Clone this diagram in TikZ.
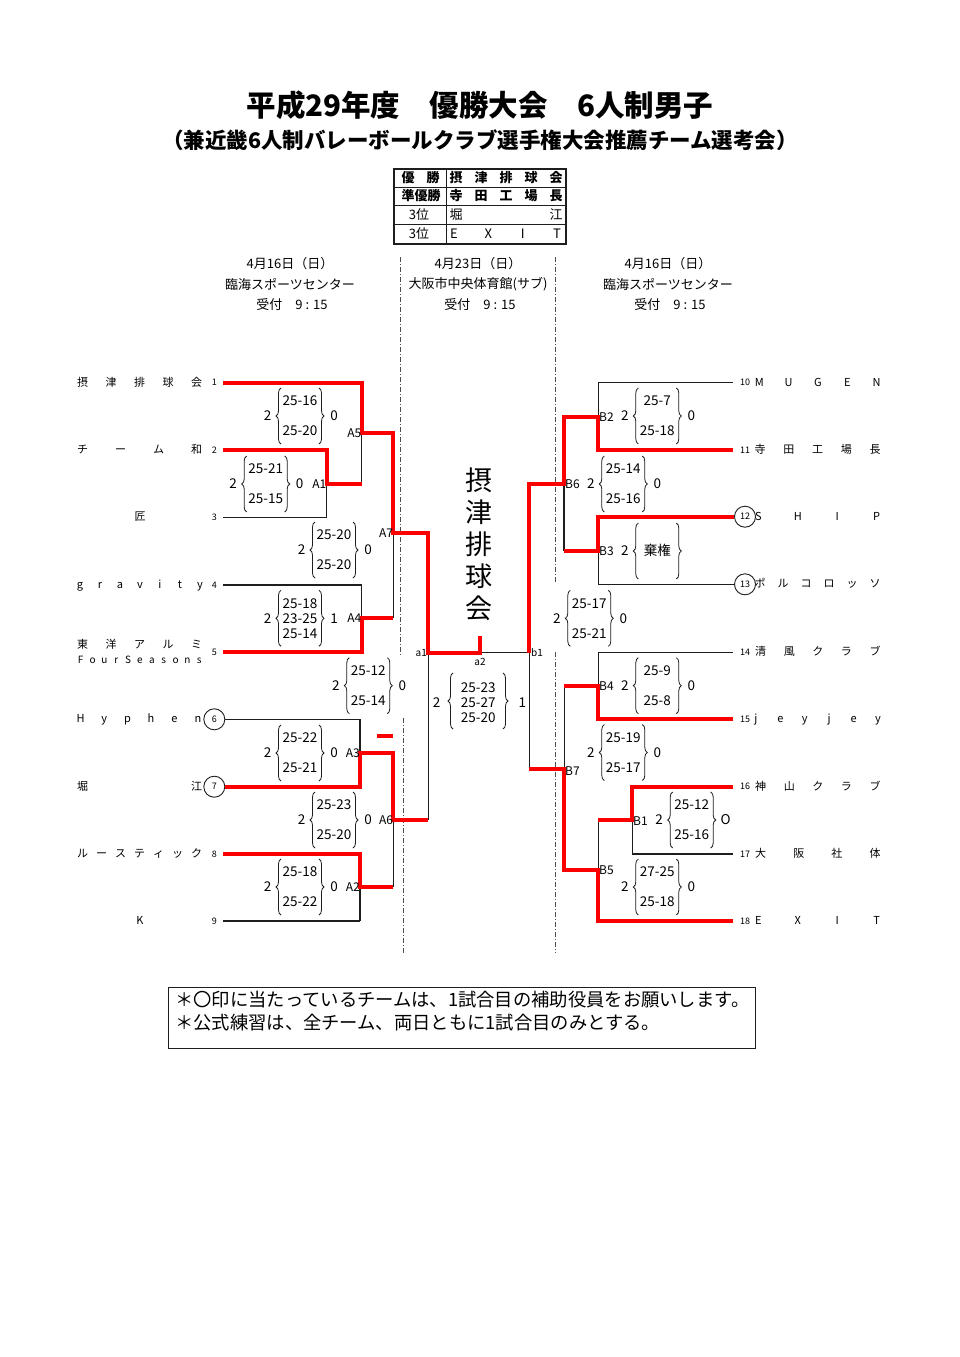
\documentclass[tikz,border=0pt]{standalone}
\usepackage{fontspec}
\setmainfont{Noto Sans CJK JP}
\usetikzlibrary{decorations.pathreplacing}
\definecolor{bred}{RGB}{250,0,0}
\definecolor{ink}{RGB}{30,30,30}
\newcommand\spr[7][nm]{%
  \foreach \ch [count=\i] in {#7} {%
    \pgfmathsetmacro\xx{#3+(\i-1)*(#4-#3)/(#6-1)}%
    \node[#1] (#2-\i) at (\xx,#5) {\ch};}}
\newcommand\matchtwo[6]{%
  \node[sc] (#1t) at (#2,#3-15) {#4};
  \node[sc] (#1b) at (#2,#3+15) {#5};
  \node[sc] (#1w) at (#2-32.5,#3) {2};
  \node[sc] (#1l) at (#2+34,#3) {#6};
  \draw[br] (#2-19,#3+28) -- (#2-19,#3-28);
  \draw[br] (#2+19,#3-28) -- (#2+19,#3+28);}
\newcommand\matchthree[7]{%
  \node[sc] (#1t) at (#2,#3-15) {#4};
  \node[sc] (#1m) at (#2,#3) {#5};
  \node[sc] (#1b) at (#2,#3+15) {#6};
  \node[sc] (#1w) at (#2-32.5,#3) {2};
  \node[sc] (#1l) at (#2+34,#3) {#7};
  \draw[br] (#2-19,#3+28) -- (#2-19,#3-28);
  \draw[br] (#2+19,#3-28) -- (#2+19,#3+28);}
\begin{document}
\begin{tikzpicture}[x=1pt,y=-1pt,
  rl/.style={line width=4pt, draw=bred, line join=miter},
  bl/.style={line width=1.3pt, draw=ink},
  dd/.style={line width=0.7pt, draw=black!70, dash pattern=on 5pt off 2pt on 1pt off 2pt},
  br/.style={decorate, decoration={brace, amplitude=5pt}, line width=0.8pt, draw=ink},
  sc/.style={font=\fontsize{13.5}{15}\selectfont, inner sep=0pt, text height=9.8pt, text depth=0pt},
  nm/.style={font=\fontsize{11}{13}\selectfont, inner sep=0pt, text height=8.5pt, text depth=1.5pt},
  nms/.style={font=\fontsize{10}{12}\selectfont, inner sep=0pt, text height=7.5pt, text depth=1.5pt},
  num/.style={font=\fontsize{9}{11}\selectfont, inner sep=0pt},
  circ/.style={draw=ink, line width=0.9pt, circle, minimum size=21pt, inner sep=0pt, font=\fontsize{9}{11}\selectfont},
  lab/.style={font=\fontsize{12}{14}\selectfont, inner sep=0pt, text height=9pt, text depth=0pt},
  slab/.style={font=\fontsize{10}{12}\selectfont, inner sep=0pt, text height=7.5pt, text depth=0pt},
  hd/.style={font=\fontsize{13}{15}\selectfont, inner sep=0pt},
  tb/.style={font=\fontsize{13}{15}\selectfont\bfseries, inner sep=0pt, text height=10pt, text depth=1.5pt},
  tr/.style={font=\fontsize{13}{15}\selectfont, inner sep=0pt, text height=10pt, text depth=1.5pt},
]
\fill[white] (0,0) rectangle (960,1357);
\useasboundingbox (0,0) rectangle (960,1357);

% titles
\node[font=\fontsize{29.5}{32}\selectfont\bfseries, inner sep=0pt] (title) at (480,105) {平成29年度　優勝大会　6人制男子};
\node[font=\fontsize{21.5}{24}\selectfont\bfseries, inner sep=0pt] (sub) at (480,140) {（兼近畿6人制バレーボールクラブ選手権大会推薦チーム選考会）};

% result table
\draw[line width=1.6pt, draw=ink] (394,169) rectangle (566,244);
\draw[line width=1pt, draw=ink] (394,187.3) -- (566,187.3) (394,205.7) -- (566,205.7) (394,224) -- (566,224) (446,169) -- (446,244);
\node[tb] (t1a) at (408,178) {優};
\node[tb] (t1b) at (433,178) {勝};
\node[tb] (t2) at (421,196.5) {準優勝};
\node[tr] (t3) at (419,215) {3位};
\node[tr] (t4) at (419,234) {3位};
\spr[tb]{r1}{456}{556}{178}{5}{摂,津,排,球,会}
\spr[tb]{r2}{456}{556}{196.5}{5}{寺,田,工,場,長}
\spr[tr]{r3}{456}{556}{215}{2}{堀,江}
\spr[tr]{r4}{454}{557}{234}{4}{E,X,I,T}

% headers
\node[hd] (d1) at (290,264) {4月16日（日）};
\node[hd] (v1) at (290,284) {臨海スポーツセンター};
\node[hd] (u1) at (292,305) {受付　9 : 15};
\node[hd] (d2) at (478,264) {4月23日（日）};
\node[hd] (v2) at (478,284) {大阪市中央体育館(サブ)};
\node[hd] (u2) at (480,305) {受付　9 : 15};
\node[hd] (d3) at (668,264) {4月16日（日）};
\node[hd] (v3) at (668,284) {臨海スポーツセンター};
\node[hd] (u3) at (670,305) {受付　9 : 15};

% dash-dot separators
\draw[dd] (400,257) -- (400,655);
\draw[dd] (403,718) -- (403,953);
\draw[dd] (555,257) -- (555,583);
\draw[dd] (555,652) -- (555,953);

% left team names
\spr{n1}{82.7}{196.7}{382.7}{5}{摂,津,排,球,会}
\spr{n2}{82.7}{196.7}{450}{4}{チ,ー,ム,和}
\node[nm] (n3) at (140,517.3) {匠};
\spr{n4}{80}{200}{585}{7}{g,r,a,v,i,t,y}
\spr{n5}{82.7}{196.7}{645}{5}{東,洋,ア,ル,ミ}
\spr[nms]{n5b}{80.7}{199.3}{660}{11}{F,o,u,r,S,e,a,s,o,n,s}
\spr{n6}{80.7}{198}{719.3}{6}{H,y,p,h,e,n}
\spr{n7}{82.7}{196.7}{786.7}{2}{堀,江}
\spr{n8}{82.7}{196.7}{854}{7}{ル,ー,ス,テ,ィ,ッ,ク}
\node[nm] (n9) at (140,921) {K};

% left numbers
\node[num] (k1) at (214.3,382.7) {1};
\node[num] (k2) at (214.3,450) {2};
\node[num] (k3) at (214.3,517.3) {3};
\node[num] (k4) at (214.3,585) {4};
\node[num] (k5) at (214.3,652.3) {5};
\node[circ, fill=white] (k6) at (214.3,719.3) {6};
\node[circ, fill=white] (k7) at (214.3,786.7) {7};
\node[num] (k8) at (214.3,854) {8};
\node[num] (k9) at (214.3,921) {9};

% right team names
\spr{n10}{759.3}{876.7}{382.7}{5}{M,U,G,E,N}
\spr{n11}{760}{875}{450}{5}{寺,田,工,場,長}
\spr{n12}{758.3}{876.7}{516.7}{4}{S,H,I,P}
\spr{n13}{760}{875}{584.3}{6}{ポ,ル,コ,ロ,ッ,ソ}
\spr{n14}{760.7}{875}{652.3}{5}{清,風,ク,ラ,ブ}
\spr{n15}{756}{878}{719.3}{6}{j,e,y,j,e,y}
\spr{n16}{760.7}{875}{786.7}{5}{神,山,ク,ラ,ブ}
\spr{n17}{760.7}{875}{854}{4}{大,阪,社,体}
\spr{n18}{758.3}{876.7}{921}{4}{E,X,I,T}

% right numbers
\node[num] (k10) at (745,382.7) {10};
\node[num] (k11) at (745,450) {11};
\node[circ] (k12) at (745,516.7) {12};
\node[circ] (k13) at (745,584.3) {13};
\node[num] (k14) at (745,652.3) {14};
\node[num] (k15) at (745,719.3) {15};
\node[num] (k16) at (745,786.7) {16};
\node[num] (k17) at (745,854) {17};
\node[num] (k18) at (745,921) {18};

% ---- black bracket lines, left
\draw[bl] (223,517.3) -- (326.7,517.3);
\draw[bl] (223,585) -- (361.7,585);
\draw[bl] (k6.east) -- (360,719.3);
\draw[bl] (223,921) -- (360,921);
\draw[bl] (361.7,432.7) -- (361.7,484);
\draw[bl] (326.7,484) -- (326.7,517.3);
\draw[bl] (361.7,585) -- (361.7,618.3);
\draw[bl] (393.3,533.3) -- (393.3,618.3);
\draw[bl] (428.3,652.7) -- (428.3,820);
\draw[bl] (360,719.3) -- (360,753.3);
\draw[bl] (393.3,820) -- (393.3,887.3);
\draw[bl] (360,887.3) -- (360,921);
% ---- black bracket lines, right
\draw[bl] (598.3,382.7) -- (733.3,382.7);
\draw[bl] (598.3,382.7) -- (598.3,416.7);
\draw[bl] (564,484) -- (564,550.7);
\draw[bl] (598.3,584.3) -- (k13.west);
\draw[bl] (598.3,550.7) -- (598.3,584.3);
\draw[bl] (598.3,652.3) -- (733.3,652.3);
\draw[bl] (598.3,652.3) -- (598.3,685.7);
\draw[bl] (564.3,685.7) -- (564.3,769.3);
\draw[bl] (529.3,652.7) -- (529.3,769.3);
\draw[bl] (632.3,854) -- (733.3,854);
\draw[bl] (632.3,820) -- (632.3,854);
\draw[bl] (598.3,820) -- (598.3,870);
\draw[bl] (480,652.2) -- (529.3,652.2);

% ---- red winner lines, left
\draw[rl] (223,382.7) -- (361.7,382.7) -- (361.7,432.7) -- (393.3,432.7) -- (393.3,533.3) -- (428.3,533.3) -- (428.3,652.7) -- (480,652.7) -- (480,636);
\draw[rl] (223,450) -- (326.7,450) -- (326.7,484) -- (361.7,484);
\draw[rl] (223,652.3) -- (361.7,652.3) -- (361.7,618.3) -- (393.3,618.3);
\draw[rl] (k7.east) -- (360,786.7) -- (360,753.3) -- (393.3,753.3) -- (393.3,820) -- (428.3,820);
\draw[rl] (223,854) -- (360,854) -- (360,887.3) -- (393.3,887.3);
\draw[rl] (376.7,736) -- (393.3,736);
% ---- red winner lines, right
\draw[rl] (733.3,450) -- (598.3,450) -- (598.3,416.7) -- (564,416.7) -- (564,484) -- (529.3,484) -- (529.3,652.7);
\draw[rl] (k12.west) -- (598.3,516.7) -- (598.3,550.7) -- (564,550.7);
\draw[rl] (733.3,719.3) -- (598.3,719.3) -- (598.3,685.7) -- (564.3,685.7);
\draw[rl] (733.3,786.7) -- (632.3,786.7) -- (632.3,820) -- (598.3,820);
\draw[rl] (733.3,921) -- (598.3,921) -- (598.3,870) -- (564.3,870) -- (564.3,769.3) -- (529.3,769.3);

% ---- round labels
\node[lab, anchor=east] (A5) at (361.5,432.7) {A5};
\node[lab, anchor=east] (A1) at (326.5,484) {A1};
\node[lab, anchor=east] (A7) at (393.3,533.3) {A7};
\node[lab, anchor=east] (A4) at (361.5,618.3) {A4};
\node[lab, anchor=east] (A3) at (360,753.3) {A3};
\node[lab, anchor=east] (A6) at (393.3,820) {A6};
\node[lab, anchor=east] (A2) at (360,887.3) {A2};
\node[lab, anchor=west] (B2) at (599,416.7) {B2};
\node[lab, anchor=west] (B6) at (565,484) {B6};
\node[lab, anchor=west] (B3) at (599,551) {B3};
\node[lab, anchor=west] (B4) at (599,685.7) {B4};
\node[lab, anchor=west] (B7) at (565,771) {B7};
\node[lab, anchor=west] (B1) at (633,821) {B1};
\node[lab, anchor=west] (B5) at (599,870) {B5};
\node[slab, anchor=east] (a1) at (427,652.7) {a1};
\node[slab] (a2) at (480,661.7) {a2};
\node[slab, anchor=west] (b1) at (531,652.7) {b1};

% ---- scores, left
\matchtwo{mA5}{300}{416}{25-16}{25-20}{0}
\matchtwo{mA1}{265.7}{484}{25-21}{25-15}{0}
\matchtwo{mA7}{334}{550}{25-20}{25-20}{0}
\matchthree{mA4}{300}{618.3}{25-18}{23-25}{25-14}{1}
\matchtwo{ma1}{368.3}{685.7}{25-12}{25-14}{0}
\matchtwo{mA3}{300}{753}{25-22}{25-21}{0}
\matchtwo{mA6}{334}{820}{25-23}{25-20}{0}
\matchtwo{mA2}{300}{887}{25-18}{25-22}{0}
% ---- scores, right
\matchtwo{mB2}{657.3}{416}{25-7}{25-18}{0}
\matchtwo{mB6}{623.3}{484}{25-14}{25-16}{0}
\node[sc] (mB3t) at (657.3,551) {棄権};
\node[sc] (mB3w) at (624.8,551) {2};
\draw[br] (638.3,579) -- (638.3,523);
\draw[br] (676.3,523) -- (676.3,579);
\matchtwo{mb1}{589.3}{618.3}{25-17}{25-21}{0}
\matchtwo{mB4}{657.3}{685.7}{25-9}{25-8}{0}
\matchtwo{mB7}{623.3}{752.5}{25-19}{25-17}{0}
\matchtwo{mB1}{691.7}{820}{25-12}{25-16}{O}
\matchtwo{mB5}{657.3}{887}{27-25}{25-18}{0}
% ---- final
\node[sc] (f1) at (478.3,687.5) {25-23};
\node[sc] (f2) at (478.3,702.7) {25-27};
\node[sc] (f3) at (478.3,717.9) {25-20};
\node[sc] (fw) at (436.7,702.7) {2};
\node[sc] (fl) at (522.3,702.7) {1};
\draw[br] (453,729) -- (453,673);
\draw[br] (503,673) -- (503,729);

% champion vertical
\foreach \c [count=\i] in {摂,津,排,球,会}
  \node[font=\fontsize{27}{30}\selectfont, inner sep=0pt] (ch\i) at (479.3,448+32*\i) {\c};

% note box
\draw[line width=1pt, draw=ink] (168,987) rectangle (755,1048);
\node[font=\fontsize{18.3}{20}\selectfont, inner sep=0pt, anchor=west] (nt1) at (175,1000) {＊〇印に当たっているチームは、1試合目の補助役員をお願いします。};
\node[font=\fontsize{18.3}{20}\selectfont, inner sep=0pt, anchor=west] (nt2) at (175,1023) {＊公式練習は、全チーム、両日ともに1試合目のみとする。};
\end{tikzpicture}
\end{document}
